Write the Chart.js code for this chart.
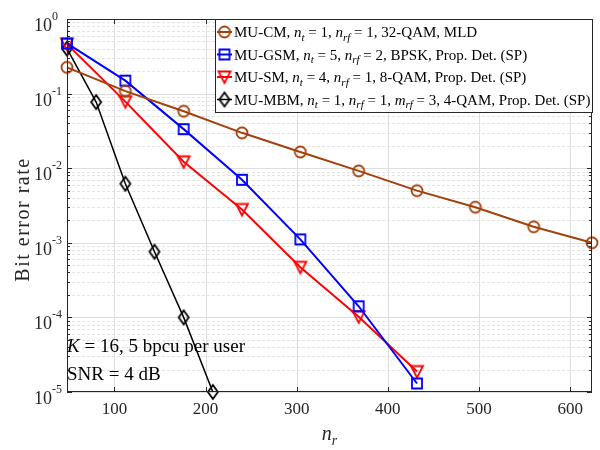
<!DOCTYPE html>
<html><head><meta charset="utf-8">
<script src="https://cdn.jsdelivr.net/npm/chart.js@4.4.0/dist/chart.umd.min.js"></script>
<style>html,body{margin:0;padding:0;background:#fff;overflow:hidden}</style>
</head><body>
<canvas id="c" width="600" height="450"></canvas>
<script>
// ---- data ----
const nrCM  = [48, 112, 176, 240, 304, 368, 432, 496, 560, 624];
const berCM = [0.225, 0.108, 0.058, 0.0298, 0.0165, 0.0092, 0.0050, 0.0030, 0.00164, 0.0010];
const nrGSM  = [48, 112, 176, 240, 304, 368, 432];
const berGSM = [0.47, 0.149, 0.0334, 0.0070, 0.00111, 0.000141, 0.0000130];
const nrSM  = [48, 112, 176, 240, 304, 368, 432];
const berSM = [0.46, 0.078, 0.0122, 0.0028, 0.00047, 0.000102, 0.0000188];
const nrMBM  = [48, 80, 112, 144, 176, 208];
const berMBM = [0.40, 0.077, 0.0062, 0.00076, 0.000100, 0.0000100];
const xTicks = [100, 200, 300, 400, 500, 600];
const yTickExps = [0, -1, -2, -3, -4, -5];
const seriesNames = [
  'MU-CM, n_t = 1, n_rf = 1, 32-QAM, MLD',
  'MU-GSM, n_t = 5, n_rf = 2, BPSK, Prop. Det. (SP)',
  'MU-SM, n_t = 4, n_rf = 1, 8-QAM, Prop. Det. (SP)',
  'MU-MBM, n_t = 1, n_rf = 1, m_rf = 3, 4-QAM, Prop. Det. (SP)'
];
const legendRich = [
  [['r','MU-CM, '],['i','n'],['s','t'],['r',' = 1, '],['i','n'],['s','rf'],['r',' = 1, 32-QAM, MLD']],
  [['r','MU-GSM, '],['i','n'],['s','t'],['r',' = 5, '],['i','n'],['s','rf'],['r',' = 2, BPSK, Prop. Det. (SP)']],
  [['r','MU-SM, '],['i','n'],['s','t'],['r',' = 4, '],['i','n'],['s','rf'],['r',' = 1, 8-QAM, Prop. Det. (SP)']],
  [['r','MU-MBM, '],['i','n'],['s','t'],['r',' = 1, '],['i','n'],['s','rf'],['r',' = 1, '],['i','m'],['s','rf'],['r',' = 3, 4-QAM, Prop. Det. (SP)']]
];
const annotLines = [
  [['i','K'],['r',' = 16, 5 bpcu per user']],
  [['r','SNR = 4 dB']]
];
const colors = ['#A3410C', '#0000FF', '#FF0000', '#000000'];
const kinds = ['circle', 'square', 'tridown', 'diamond'];

const SERIF = '"Liberation Serif", "Times New Roman", serif';

function markerPath(ctx, kind, cx, cy) {
  ctx.beginPath();
  if (kind === 'circle') { ctx.arc(cx, cy, 5.5, 0, Math.PI * 2); }
  else if (kind === 'square') { ctx.rect(cx - 5, cy - 5, 10, 10); }
  else if (kind === 'tridown') { ctx.moveTo(cx - 6, cy - 5.5); ctx.lineTo(cx + 6, cy - 5.5); ctx.lineTo(cx, cy + 6); ctx.closePath(); }
  else if (kind === 'diamond') { ctx.moveTo(cx, cy - 7); ctx.lineTo(cx + 5, cy); ctx.lineTo(cx, cy + 7); ctx.lineTo(cx - 5, cy); ctx.closePath(); }
}
function makeMarker(kind, color) {
  const c = document.createElement('canvas');
  c.width = 20; c.height = 20;
  const ctx = c.getContext('2d');
  ctx.strokeStyle = color; ctx.lineWidth = 1.8; ctx.lineJoin = 'miter';
  markerPath(ctx, kind, 10, 10);
  ctx.stroke();
  return c;
}
const markers = kinds.map((k, i) => makeMarker(k, colors[i]));

function pts(xs, ys) { return xs.map((x, i) => ({ x: x, y: ys[i] })); }
const seriesX = [nrCM, nrGSM, nrSM, nrMBM];
const seriesY = [berCM, berGSM, berSM, berMBM];
const widths = [2, 2, 2, 1.5];

function drawRich(ctx, segs, x, y, size, align) {
  const fontFor = (t) => t === 'r' ? `${size}px ${SERIF}` : t === 'i' ? `italic ${size}px ${SERIF}` : `italic ${Math.round(size * 0.7)}px ${SERIF}`;
  let total = 0;
  for (const [t, s] of segs) { ctx.font = fontFor(t); total += ctx.measureText(s).width; }
  let cx = align === 'center' ? x - total / 2 : align === 'right' ? x - total : x;
  ctx.textBaseline = 'alphabetic'; ctx.textAlign = 'left';
  for (const [t, s] of segs) {
    ctx.font = fontFor(t);
    ctx.fillText(s, cx, t === 's' ? y + size * 0.25 : y);
    cx += ctx.measureText(s).width;
  }
  return total;
}

const decor = {
  id: 'decor',
  beforeDatasetsDraw(chart) {
    const { ctx, chartArea: a, scales } = chart;
    const xs = scales.x, ys = scales.y;
    ctx.save();
    ctx.lineWidth = 1;
    ctx.strokeStyle = '#e4e4e4';
    ctx.setLineDash([3, 2]);
    for (let e = -5; e < 0; e++) {
      for (let m = 2; m <= 9; m++) {
        const y = Math.round(ys.getPixelForValue(m * Math.pow(10, e))) + 0.5;
        ctx.beginPath(); ctx.moveTo(a.left, y); ctx.lineTo(a.right, y); ctx.stroke();
      }
    }
    ctx.setLineDash([]);
    ctx.strokeStyle = '#dedede';
    for (const e of yTickExps) {
      const y = Math.round(ys.getPixelForValue(Math.pow(10, e))) + 0.5;
      ctx.beginPath(); ctx.moveTo(a.left, y); ctx.lineTo(a.right, y); ctx.stroke();
    }
    for (const t of xTicks) {
      const x = Math.round(xs.getPixelForValue(t)) + 0.5;
      ctx.beginPath(); ctx.moveTo(x, a.top); ctx.lineTo(x, a.bottom); ctx.stroke();
    }
    ctx.restore();
  },
  afterDatasetsDraw(chart) {
    const { ctx, chartArea: a, scales } = chart;
    const xs = scales.x, ys = scales.y;
    ctx.save();
    ctx.strokeStyle = '#262626'; ctx.lineWidth = 1;
    ctx.strokeRect(a.left + 0.5, a.top + 0.5, a.right - a.left - 1, a.bottom - a.top - 1);
    ctx.beginPath();
    for (const t of xTicks) {
      const x = Math.round(xs.getPixelForValue(t)) + 0.5;
      ctx.moveTo(x, a.bottom); ctx.lineTo(x, a.bottom - 5);
      ctx.moveTo(x, a.top); ctx.lineTo(x, a.top + 5);
    }
    for (let e = -5; e <= 0; e++) {
      const y = Math.round(ys.getPixelForValue(Math.pow(10, e))) + 0.5;
      ctx.moveTo(a.left, y); ctx.lineTo(a.left + 5, y);
      ctx.moveTo(a.right, y); ctx.lineTo(a.right - 5, y);
      if (e < 0) for (let m = 2; m <= 9; m++) {
        const ym = Math.round(ys.getPixelForValue(m * Math.pow(10, e))) + 0.5;
        ctx.moveTo(a.left, ym); ctx.lineTo(a.left + 3, ym);
        ctx.moveTo(a.right, ym); ctx.lineTo(a.right - 3, ym);
      }
    }
    ctx.stroke();
    ctx.fillStyle = '#262626';
    ctx.font = `17px ${SERIF}`;
    ctx.textAlign = 'center'; ctx.textBaseline = 'middle';
    for (const t of xTicks) ctx.fillText(String(t), xs.getPixelForValue(t), 410);
    for (const e of yTickExps) {
      const y = ys.getPixelForValue(Math.pow(10, e));
      ctx.textAlign = 'left'; ctx.textBaseline = 'alphabetic';
      ctx.font = `18px ${SERIF}`;
      ctx.fillText('10', 34, y + 12);
      const w10 = ctx.measureText('10').width;
      ctx.font = `12px ${SERIF}`;
      ctx.fillText(String(e), 34 + w10, y + 1);
    }
    ctx.fillStyle = '#262626';
    drawRich(ctx, [['i', 'n'], ['s', 'r']], (a.left + a.right) / 2, 440, 20, 'center');
    ctx.save();
    ctx.translate(24, (a.top + a.bottom) / 2 + 14);
    ctx.rotate(-Math.PI / 2);
    ctx.font = `20px ${SERIF}`;
    ctx.textAlign = 'center'; ctx.textBaseline = 'middle';
    ctx.letterSpacing = '1.5px';
    ctx.fillText('Bit error rate', 0, 0);
    ctx.restore();
    ctx.fillStyle = '#000';
    drawRich(ctx, annotLines[0], 67, 352, 19, 'left');
    drawRich(ctx, annotLines[1], 67, 380, 19, 'left');
    const lx = 215.5, ly = 19.5, lw = 377, lh = 93;
    ctx.fillStyle = '#fff';
    ctx.fillRect(lx, ly, lw, lh);
    ctx.strokeStyle = '#262626'; ctx.lineWidth = 1;
    ctx.strokeRect(lx, ly, lw, lh);
    const rows = [32, 54.5, 77, 99.5];
    for (let i = 0; i < 4; i++) {
      ctx.strokeStyle = colors[i]; ctx.lineWidth = widths[i];
      ctx.beginPath(); ctx.moveTo(217, rows[i]); ctx.lineTo(232, rows[i]); ctx.stroke();
      ctx.drawImage(markers[i], 224.5 - 10, rows[i] - 10);
      ctx.fillStyle = '#000';
      drawRich(ctx, legendRich[i], 234, rows[i] + 5, 15, 'left');
    }
    ctx.restore();
  }
};

new Chart(document.getElementById('c'), {
  type: 'line',
  data: {
    datasets: seriesNames.map((name, i) => ({
      label: name,
      data: pts(seriesX[i], seriesY[i]),
      borderColor: colors[i],
      backgroundColor: colors[i],
      borderWidth: widths[i],
      pointStyle: markers[i],
      pointRadius: 6,
      pointHoverRadius: 6,
      fill: false,
      tension: 0,
      clip: false
    }))
  },
  options: {
    responsive: false,
    animation: false,
    devicePixelRatio: 1,
    layout: { padding: { left: 67, right: 5, top: 19, bottom: 58 } },
    plugins: { legend: { display: false }, tooltip: { enabled: false }, title: { display: false } },
    scales: {
      x: { type: 'linear', min: 48, max: 624, display: false },
      y: { type: 'logarithmic', min: 1e-5, max: 1, display: false }
    }
  },
  plugins: [decor]
});
</script>
</body></html>
